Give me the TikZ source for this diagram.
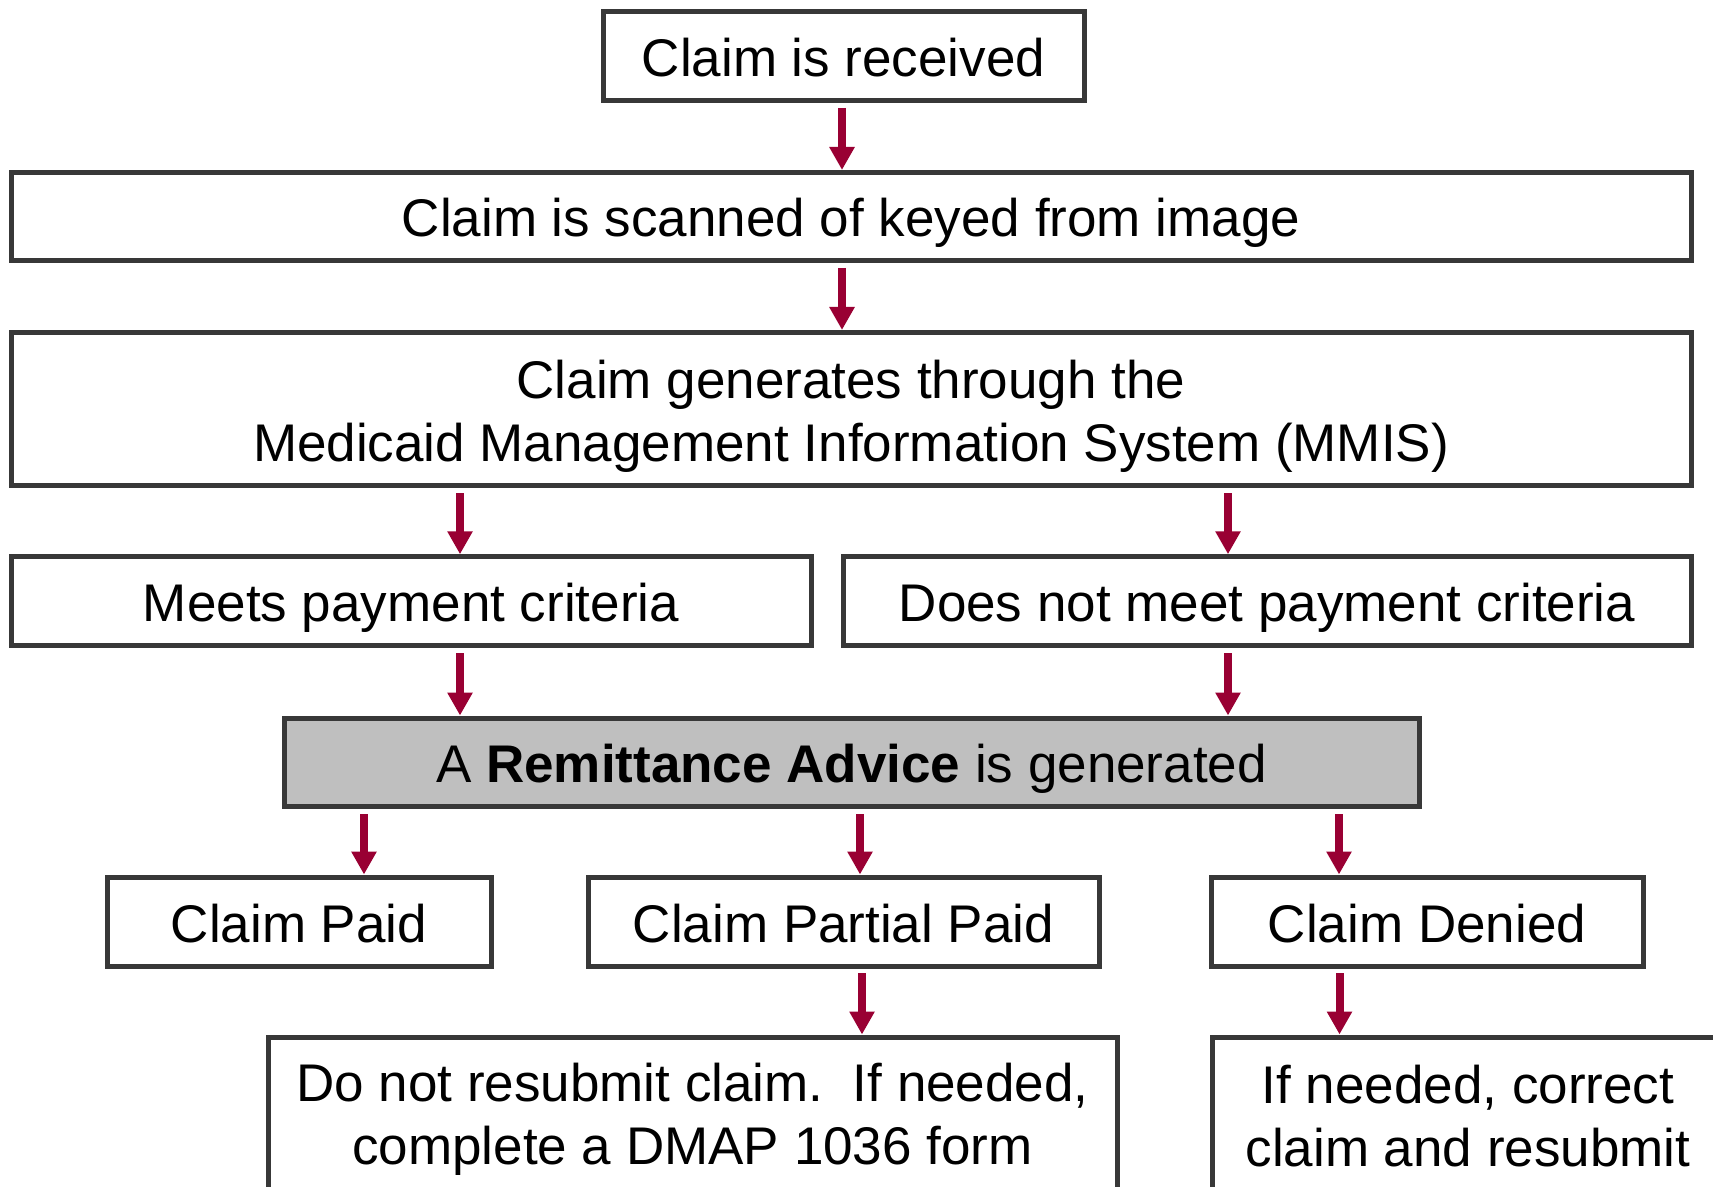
\documentclass[tikz,border=0pt]{standalone}
\usepackage{fontspec}
\setmainfont{Liberation Sans}
\usetikzlibrary{arrows.meta}
\definecolor{boxline}{HTML}{383838}
\definecolor{arrowred}{HTML}{990033}
\definecolor{rafill}{HTML}{BFBFBF}
\newcommand{\twolines}[2]{\begin{tabular}[t]{@{}c@{}}#1\\#2\end{tabular}}
\begin{document}
\begin{tikzpicture}[x=0.5pt,y=-0.5pt,
  box/.style={draw=boxline, line width=2.5pt, fill=white, inner sep=0pt,
    font=\fontsize{26.5pt}{31.5pt}\selectfont},
  oneline/.style={text height=20.5pt, text depth=0pt},
  twoline/.style={text height=0pt, text depth=#1},
  arr/.style={draw=arrowred, line width=4pt, -{Triangle[width=12pt,length=11.5pt]}}]
\useasboundingbox (0,0) rectangle (1713,1187);
\clip (0,0) rectangle (1713,1187);
\node[box, oneline, minimum width=240.5pt, minimum height=44.5pt] (b1) at (843.5,56.5) {Claim is received};
\node[box, oneline, minimum width=840pt, minimum height=44pt] (b2) at (851,216.5) {Claim is scanned of keyed from image};
\node[box, twoline=10pt, minimum width=840pt, minimum height=76.5pt] (b3) at (851,409) {\twolines{Claim generates through the}{Medicaid Management Information System (MMIS)}};
\node[box, oneline, minimum width=400pt, minimum height=44.25pt] (b4) at (411,601) {Meets payment criteria};
\node[box, oneline, minimum width=424pt, minimum height=44.25pt] (b5) at (1267,601) {Does not meet payment criteria};
\node[box, oneline, fill=rafill, minimum width=567.5pt, minimum height=44pt] (b6) at (851.5,762) {A \textbf{Remittance Advice} is generated};
\node[box, oneline, minimum width=192pt, minimum height=44.5pt] (b7) at (299,921.5) {Claim Paid};
\node[box, oneline, minimum width=255.5pt, minimum height=44.5pt] (b8) at (843.5,921.5) {Claim Partial Paid};
\node[box, oneline, minimum width=216pt, minimum height=44.5pt] (b9) at (1427,921.5) {Claim Denied};
\node[box, twoline=14.5pt, minimum width=424.5pt, minimum height=79pt] (b10) at (692.5,1116) {\twolines{Do not resubmit claim.\ \ If needed,}{complete a DMAP 1036 form}};
\node[box, twoline=13pt, minimum width=256pt, minimum height=79pt] (b11) at (1468,1116) {\twolines{If needed, correct}{claim and resubmit}};
\coordinate (s1) at (842,108);
\coordinate (s2) at (842,268);
\coordinate (s3) at (460,493);
\coordinate (s4) at (1228,493);
\coordinate (s5) at (460,653);
\coordinate (s6) at (1228,653);
\coordinate (s7) at (364,814);
\coordinate (s8) at (860,814);
\coordinate (s9) at (1339,814);
\coordinate (s10) at (862,973);
\coordinate (s11) at (1339.5,973);
\draw[arr] (s1) -- (s1 |- b2.north);
\draw[arr] (s2) -- (s2 |- b3.north);
\draw[arr] (s3) -- (s3 |- b4.north);
\draw[arr] (s4) -- (s4 |- b5.north);
\draw[arr] (s5) -- (s5 |- b6.north);
\draw[arr] (s6) -- (s6 |- b6.north);
\draw[arr] (s7) -- (s7 |- b7.north);
\draw[arr] (s8) -- (s8 |- b8.north);
\draw[arr] (s9) -- (s9 |- b9.north);
\draw[arr] (s10) -- (s10 |- b10.north);
\draw[arr] (s11) -- (s11 |- b11.north);
\end{tikzpicture}
\end{document}
